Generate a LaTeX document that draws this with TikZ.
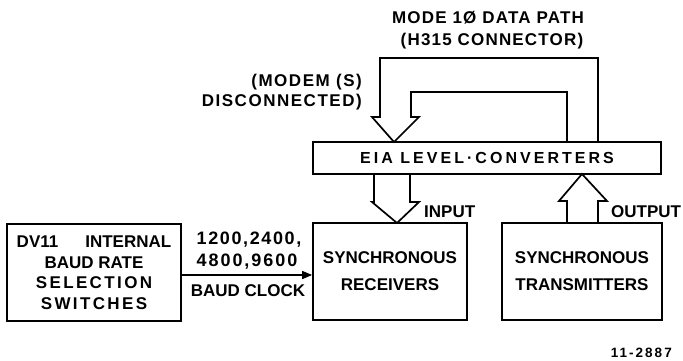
\documentclass[tikz,border=0pt]{standalone}
\usepackage{fontspec}
\setmainfont{Liberation Sans}[BoldFont=Liberation Sans Bold]
\usetikzlibrary{arrows.meta}
\newcommand\lsp[1]{\addfontfeatures{LetterSpace=#1}}
\begin{document}
\begin{tikzpicture}[x=1pt,y=-1pt,
  box/.style={draw, line width=1.7pt, inner sep=0pt, align=center,
    font=\bfseries\fontsize{17}{20.5}\selectfont},
  lab/.style={inner sep=0pt, font=\bfseries\fontsize{17}{20}\selectfont},
  fat/.style={line width=1.7pt, line join=miter}]
\useasboundingbox (0,0) rectangle (683,360);
% boxes
\node[box, minimum width=174pt, minimum height=97pt] (sw) at (94,272.5)
  {DV11\hspace{27pt}INTERNAL\\BAUD RATE\\{\lsp{14}SELECTION}\\{\lsp{14}SWITCHES}};
\node[box, minimum width=154pt, minimum height=97pt,
  font=\bfseries\fontsize{17}{27}\selectfont] (rx) at (390,271.5)
  {SYNCHRONOUS\\RECEIVERS};
\node[box, minimum width=160pt, minimum height=97pt,
  font=\bfseries\fontsize{17}{27}\selectfont] (tx) at (582,271.5)
  {SYNCHRONOUS\\TRANSMITTERS};
\node[box, minimum width=348pt, minimum height=32pt,
  font=\bfseries\fontsize{16}{20}\selectfont\lsp{19}] (eia) at (487,158)
  {EIA LEVEL·CONVERTERS};
% baud clock connector
\draw[line width=1.5pt, -{Triangle[length=10pt,width=8pt]}]
  ([yshift=-2.5pt]sw.east) -- ([yshift=-2.5pt]sw.east -| rx.west);
\node[lab, anchor=base, font=\bfseries\fontsize{18}{20}\selectfont\lsp{9}] (b1) at (249,244) {1200,2400,};
\node[lab, anchor=base, font=\bfseries\fontsize{18}{20}\selectfont\lsp{11}] (b2) at (247,266) {4800,9600};
\node[lab, anchor=base] (b3) at (248,296) {BAUD CLOCK};
% input fat arrow
\draw[fat] (374,174) -- (374,202) -- (372,202) -- (397,223) -- (419,202)
  -- (410,202) -- (410,174);
\node[lab, anchor=base west] (inp) at (424,217) {INPUT};
% output fat arrow
\draw[fat] (567,223) -- (567,201) -- (559,201) -- (582,174) -- (607,201)
  -- (598,201) -- (598,223);
\node[lab, anchor=base west] (outp) at (611,217) {OUTPUT};
% mode 10 loop with arrow into EIA
\draw[fat] (567,142) -- (567,92) -- (411,92) -- (411,117) -- (419,117)
  -- (394,142) -- (372,117) -- (380,117) -- (380,58) -- (598,58) -- (598,142);
\node[lab, anchor=base, font=\bfseries\fontsize{17}{20}\selectfont\lsp{7}] (m1) at (488,23.5) {MODE 1Ø DATA PATH};
\node[lab, anchor=base, font=\bfseries\fontsize{17}{20}\selectfont\lsp{7}] (m2) at (492,45) {(H315 CONNECTOR)};
\node[lab, anchor=base east, font=\bfseries\fontsize{17}{20}\selectfont\lsp{9}] (md1) at (362,86) {(MODEM (S)};
\node[lab, anchor=base east, font=\bfseries\fontsize{17}{20}\selectfont\lsp{9}] (md2) at (362,106) {DISCONNECTED)};
% figure number
\node[lab, anchor=base east, font=\bfseries\fontsize{13.5}{15}\selectfont\lsp{15}] (fig) at (672,357) {11-2887};
\end{tikzpicture}
\end{document}
